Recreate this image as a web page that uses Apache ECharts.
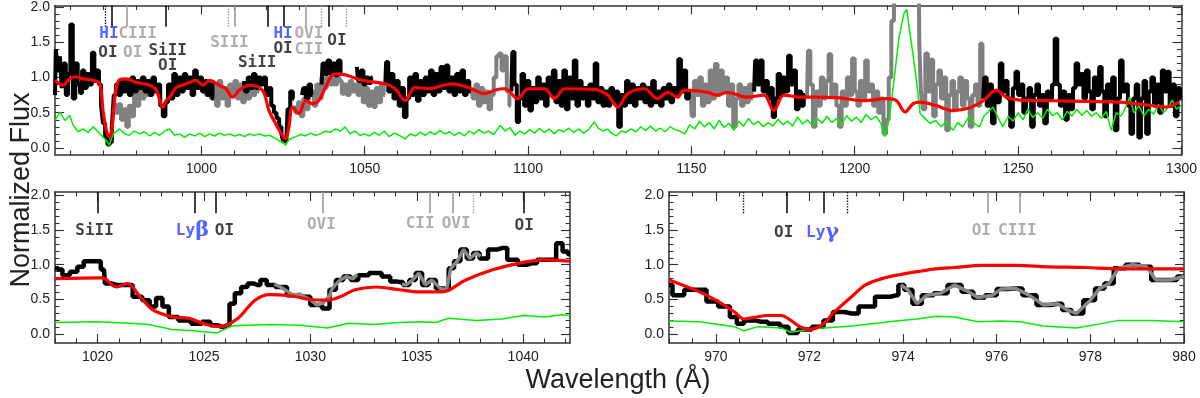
<!DOCTYPE html>
<html>
<head>
<meta charset="utf-8">
<script src="https://cdn.jsdelivr.net/npm/echarts@6/dist/echarts.min.js"></script>
<style>
  html, body { margin: 0; padding: 0; background: #fff; }
  #chart { width: 1200px; height: 398px; }
</style>
</head>
<body>
<div id="chart"></div>
<script>
// ---- top panel: full spectrum (wavelength, normalized flux); null = gap ----
const topBlack = [
  [955.2,0.75],[955.7,1.4],[956.4,1.1],[957.0,1.3],[957.5,0.85],[958.2,1.2],[958.8,0.75],[959.5,1.05],
  [960.3,1.75],[961.0,0.7],[961.8,1.2],[962.5,0.9],[963.2,0.78],[963.8,1.1],[964.6,0.85],[965.3,1.05],
  [966.1,0.9],[966.9,1.35],[967.6,0.95],[968.3,1.1],[969.0,0.9],[969.6,0.6],[970.2,0.35],[970.9,0.15],
  [971.6,0.05],[972.3,0.08],[972.9,0.3],[973.5,0.75],[974.2,0.9],[975.0,0.75],[975.8,0.95],[976.6,0.8],
  [977.4,0.95],[978.2,0.75],[979.0,1.0],[979.8,0.8],[980.6,0.95],[981.4,0.85],[982.2,1.0],[983.0,0.8],
  [983.8,0.95],[984.6,0.75],[985.4,1.0],[986.2,0.8],[987.0,0.9],[987.8,0.6],[988.6,0.45],[989.4,0.65],
  [990.2,0.9],[991.0,0.7],[991.8,1.05],[992.6,0.75],[993.4,1.0],[994.2,0.8],[995.0,1.05],[995.8,0.85],
  [996.6,1.0],[997.4,0.75],[998.2,1.1],[999.0,0.85],[999.8,1.0],[1000.6,0.8],[1001.4,0.95],[1002.2,0.75],
  [1003.0,0.9],[1003.8,0.7],[1004.4,null],
  [1013.0,0.95],[1013.8,0.8],[1014.6,1.0],[1015.4,0.85],[1016.2,1.05],[1017.0,0.85],[1017.8,1.0],[1018.6,0.9],
  [1019.4,1.0],[1020.2,0.75],[1021.0,0.85],[1021.8,0.6],[1022.6,0.5],[1023.4,0.42],[1024.2,0.3],[1024.8,0.2],
  [1025.4,0.08],[1026.0,0.1],[1026.8,0.55],[1027.6,0.8],[1028.4,0.7],[1029.0,null],
  [1030.8,0.75],[1031.6,0.85],[1032.4,0.7],[1033.2,0.9],[1034.0,0.75],[1034.8,null],
  [1036.8,0.9],[1037.4,1.2],[1038.2,1.05],[1039.0,1.24],[1039.8,1.05],[1040.6,1.2],[1041.4,1.03],[1042.2,1.24],
  [1043.0,1.05],[1043.6,null],
  [1047.6,1.15],[1048.4,0.95],[1049.2,1.1],[1050.0,0.9],[1050.8,1.0],[1051.6,0.92],[1052.4,1.0],[1053.0,null],
  [1056.3,0.9],[1056.8,1.22],[1057.6,0.8],[1058.4,1.05],[1059.2,0.7],[1060.0,0.95],[1060.8,0.6],[1061.6,0.85],
  [1062.4,0.44],[1063.2,0.7],[1064.0,1.0],[1064.8,0.75],[1065.6,1.05],[1066.4,0.67],[1067.2,0.95],[1068.0,0.75],
  [1068.8,1.0],[1069.6,0.8],[1070.4,1.1],[1071.2,0.75],[1072.0,1.05],[1072.8,0.8],[1073.6,1.15],[1074.4,0.85],
  [1075.2,1.17],[1076.0,0.8],[1076.8,1.0],[1077.6,0.75],[1078.4,1.05],[1079.2,0.8],[1080.0,1.1],[1080.8,0.75],
  [1081.6,0.95],[1082.4,0.8],[1083.0,null],
  [1094.9,0.8],[1095.5,1.36],[1096.2,0.9],[1096.9,0.37],[1097.6,0.7],[1098.4,1.05],[1099.2,0.6],[1100.0,0.95],
  [1100.8,0.53],[1101.6,0.85],[1102.4,0.65],[1103.2,1.0],[1104.0,0.7],[1104.8,0.9],[1105.6,0.6],[1106.4,1.0],
  [1107.2,0.75],[1108.0,1.1],[1108.8,0.65],[1109.6,0.95],[1110.4,0.6],[1111.2,1.1],[1112.0,0.55],[1112.8,1.0],
  [1113.6,0.7],[1114.4,1.24],[1115.2,0.6],[1116.0,0.95],[1116.8,0.7],[1117.6,0.85],[1118.4,0.6],[1119.2,0.9],
  [1120.0,0.7],[1120.8,1.2],[1121.6,0.65],[1122.4,0.85],[1123.2,0.6],[1124.0,0.8],[1124.8,0.6],[1125.6,0.85],
  [1126.4,0.65],[1127.2,0.8],[1128.0,0.3],[1128.8,0.75],[1129.6,0.6],[1130.4,0.95],[1131.2,0.65],[1132.0,0.9],
  [1132.8,0.6],[1133.6,0.85],[1134.4,0.7],[1135.2,0.9],[1136.0,0.65],[1136.8,0.85],[1137.6,0.6],[1138.4,0.95],
  [1139.2,0.65],[1140.0,0.8],[1140.8,0.6],[1141.6,0.85],[1142.4,0.7],[1143.2,0.9],[1144.0,0.65],[1144.8,0.85],
  [1145.6,0.75],[1146.4,1.26],[1147.2,0.8],[1148.0,1.1],[1148.8,0.7],[1149.6,0.8],[1150.2,null],
  [1169.2,0.8],[1169.8,1.24],[1170.6,0.9],[1171.4,1.24],[1172.2,0.8],[1173.0,0.95],[1173.8,0.7],[1174.6,0.85],
  [1175.2,0.44],[1176.0,0.7],[1176.8,1.05],[1177.6,0.75],[1178.4,1.0],[1179.2,0.8],[1180.0,1.31],[1180.8,0.9],
  [1181.6,1.1],[1182.4,0.55],[1183.2,0.8],[1184.0,0.6],[1184.8,0.75],[1185.4,null],
  [1239.3,0.7],[1240.0,1.0],[1240.8,0.6],[1241.6,0.9],[1242.4,0.35],[1243.2,0.8],[1244.0,0.65],[1244.8,1.2],
  [1245.6,0.8],[1246.4,0.95],[1247.2,0.7],[1248.0,0.3],[1248.8,0.85],[1249.6,1.08],[1250.4,0.75],[1251.2,0.9],
  [1252.0,0.5],[1252.8,0.7],[1253.6,0.85],[1254.4,0.3],[1255.2,0.75],[1256.0,0.9],[1256.8,0.6],[1257.6,0.75],
  [1258.4,0.35],[1259.2,0.8],[1260.0,0.7],[1260.8,0.9],[1261.6,1.55],[1262.4,0.9],[1263.2,0.6],[1264.0,0.8],
  [1264.8,0.4],[1265.6,0.75],[1266.4,0.55],[1267.2,0.85],[1268.0,1.2],[1268.8,0.9],[1269.6,1.05],[1270.4,0.7],
  [1271.2,1.1],[1272.0,0.8],[1272.8,0.55],[1273.6,1.0],[1274.4,0.75],[1275.2,1.15],[1276.0,0.8],[1276.8,0.45],
  [1277.6,0.9],[1278.4,0.7],[1279.2,1.0],[1280.0,0.25],[1280.8,0.7],[1281.6,1.24],[1282.4,0.8],[1283.2,0.9],
  [1284.0,0.6],[1284.8,0.2],[1285.6,0.7],[1286.4,0.9],[1287.2,0.15],[1288.0,0.7],[1288.8,0.95],[1289.6,0.2],
  [1290.4,0.8],[1291.2,1.0],[1292.0,0.6],[1292.8,0.9],[1293.6,0.5],[1294.4,1.1],[1295.2,0.8],[1296.0,1.08],
  [1296.8,0.6],[1297.6,0.9],[1298.4,0.45],[1299.2,0.85],[1300.0,0.7]
];

const topGray = [
  [973.4,0.65],[974.2,0.5],[975.0,0.62],[975.8,0.4],[976.6,0.55],[977.4,0.3],[978.2,0.6],[979.0,0.45],
  [979.8,0.75],[980.6,0.6],[981.4,0.85],[982.2,0.7],[983.0,0.9],[983.8,0.75],[984.6,0.9],[985.4,null],
  [1001.0,0.9],[1001.8,0.75],[1002.5,0.95],[1003.3,0.7],[1004.1,0.9],[1004.9,0.6],[1005.7,0.95],[1006.5,0.7],
  [1007.3,0.85],[1008.1,0.6],[1008.9,0.9],[1009.7,0.75],[1010.5,0.95],[1011.3,0.7],[1012.1,0.9],[1012.9,0.65],
  [1013.7,0.85],[1014.5,0.7],[1015.3,0.9],[1016.1,0.75],[1016.9,0.85],[1017.7,0.8],[1018.5,null],
  [1028.4,0.6],[1029.2,0.5],[1030.0,0.65],[1030.8,0.45],[1031.6,0.7],[1032.4,0.55],[1033.2,0.75],[1034.0,0.8],
  [1034.8,0.6],[1035.6,0.9],[1036.4,0.7],[1037.2,1.0],[1038.0,0.85],[1038.8,1.0],[1039.6,0.9],[1040.4,1.05],
  [1041.2,0.9],[1042.0,1.0],[1042.6,0.95],[1043.4,0.77],[1044.2,0.9],[1045.0,0.75],[1045.8,0.95],[1046.6,0.8],
  [1047.4,0.9],[1048.2,0.75],[1049.0,0.95],[1049.8,0.65],[1050.6,0.85],[1051.4,0.6],[1052.2,0.8],[1053.0,0.58],
  [1053.8,0.85],[1054.6,0.65],[1055.4,0.9],[1056.2,0.75],[1057.0,null],
  [1082.7,0.85],[1083.5,0.7],[1084.3,0.9],[1085.1,0.6],[1085.9,0.85],[1086.7,0.65],[1087.5,0.8],[1088.3,0.55],
  [1089.1,0.75],[1089.9,1.0],[1090.7,1.3],[1091.5,1.34],[1092.3,1.1],[1093.1,1.3],[1093.9,0.8],[1094.7,0.6],
  [1095.3,null],
  [1149.8,0.8],[1150.4,0.45],[1151.2,0.95],[1152.0,0.75],[1152.8,1.0],[1153.6,0.6],[1154.4,0.9],[1155.2,0.65],
  [1156.0,1.1],[1156.8,0.7],[1157.6,1.19],[1158.4,0.75],[1159.2,1.1],[1160.0,0.8],[1160.8,1.0],[1161.6,0.6],
  [1162.4,0.9],[1163.2,0.3],[1164.0,0.7],[1164.8,0.9],[1165.6,0.6],[1166.4,0.85],[1167.2,0.65],[1168.0,0.9],
  [1168.8,0.7],[1169.4,null],
  [1185.4,0.7],[1186.0,1.38],[1186.8,0.9],[1187.6,0.3],[1188.4,0.8],[1189.2,0.6],[1190.0,1.0],[1190.8,0.7],
  [1191.6,0.95],[1192.4,1.33],[1193.2,0.75],[1194.0,0.9],[1194.8,0.6],[1195.6,0.3],[1196.4,0.8],[1197.2,0.6],
  [1198.0,1.0],[1198.8,0.75],[1199.6,1.27],[1200.4,0.8],[1201.2,0.6],[1202.0,0.95],[1202.8,0.7],[1203.6,1.24],
  [1204.4,0.8],[1205.2,0.9],[1206.0,0.6],[1206.8,0.8],[1207.6,0.5],[1208.4,0.7],[1209.2,0.2],[1210.0,0.4],
  [1210.8,1.0],[1211.6,1.8],[1212.4,2.5],[1213.0,3.0],[1219.5,3.0],[1220.0,1.5],[1220.5,0.8],[1221.2,0.55],
  [1222.0,1.34],[1222.8,0.8],[1223.6,1.25],[1224.4,0.45],[1225.2,0.9],[1226.0,1.1],[1226.8,0.7],[1227.6,1.0],
  [1228.4,0.25],[1229.2,0.75],[1230.0,0.95],[1230.8,0.55],[1231.6,0.8],[1232.4,1.0],[1233.2,0.6],[1234.0,0.95],
  [1234.8,0.7],[1235.6,0.3],[1236.4,0.75],[1237.2,0.9],[1238.0,0.6],[1238.8,1.48],[1239.4,0.8]
];

const topModel = [
  [955.2,0.96],[957.7,0.89],[959.3,0.96],[961.3,1.01],[963.8,0.98],[966.9,0.96],[968.9,0.91],[969.9,0.53],
  [970.9,0.25],[971.8,0.16],[972.5,0.23],[973.2,0.58],[974.0,0.86],[975.0,0.97],[976.9,0.98],[980.1,0.93],
  [984.2,0.89],[986.2,0.82],[988.2,0.58],[989.2,0.67],[990.3,0.72],[992.3,0.86],[994.3,0.89],[996.4,0.93],
  [998.4,0.96],[1000.4,0.89],[1002.5,0.96],[1005.5,0.89],[1007.5,0.84],[1009.6,0.72],[1011.6,0.82],[1014.7,0.89],
  [1018.7,0.82],[1020.7,0.53],[1022.8,0.34],[1024.8,0.18],[1025.8,0.13],[1026.8,0.3],[1027.9,0.58],[1029.9,0.49],
  [1031.9,0.67],[1033.9,0.63],[1035.9,0.67],[1038.0,0.86],[1040.0,1.03],[1042.0,1.05],[1049.2,0.96],[1056.3,0.91],
  [1059.3,0.84],[1062.4,0.67],[1065.4,0.86],[1069.5,0.84],[1076.6,0.91],[1081.7,0.86],[1086.8,0.77],[1089.8,0.82],
  [1092.9,0.84],[1096.9,0.7],[1100.0,0.84],[1105.1,0.84],[1108.1,0.7],[1111.2,0.84],[1120.3,0.83],[1124.4,0.75],
  [1126.0,0.65],[1127.4,0.58],[1130.5,0.77],[1135.6,0.84],[1139.6,0.7],[1142.7,0.79],[1145.7,0.72],[1147.8,0.82],
  [1154.9,0.79],[1157.9,0.75],[1161.0,0.79],[1167.1,0.72],[1172.2,0.75],[1175.2,0.53],[1178.3,0.75],[1183.3,0.72],
  [1187.4,0.72],[1195.5,0.71],[1202.7,0.67],[1209.8,0.7],[1212.8,0.67],[1215.4,0.51],[1217.9,0.63],[1220.0,0.65],
  [1225.0,0.6],[1230.1,0.53],[1235.2,0.57],[1239.3,0.67],[1243.3,0.82],[1246.4,0.72],[1250.5,0.68],[1260.6,0.67],
  [1270.8,0.66],[1280.9,0.65],[1291.1,0.6],[1295.2,0.58],[1299.2,0.65]
];

const topError = [
  [955.2,0.39],[956.7,0.51],[958.2,0.39],[959.7,0.46],[960.8,0.32],[962.3,0.23],[963.8,0.27],[965.3,0.22],
  [966.9,0.3],[968.9,0.2],[970.9,0.11],[971.8,0.04],[973.0,0.2],[975.0,0.27],[976.5,0.2],[978.0,0.18],
  [979.5,0.24],[981.1,0.2],[982.6,0.23],[984.2,0.17],[985.7,0.22],[987.2,0.18],[988.8,0.24],[990.3,0.27],
  [991.8,0.18],[993.4,0.2],[994.9,0.15],[996.4,0.2],[998.0,0.17],[999.5,0.21],[1001.0,0.16],[1002.5,0.2],
  [1004.0,0.17],[1005.6,0.21],[1007.1,0.18],[1008.6,0.2],[1010.2,0.17],[1011.7,0.19],[1013.2,0.16],[1014.7,0.2],
  [1016.3,0.18],[1017.8,0.2],[1019.3,0.17],[1020.9,0.18],[1022.4,0.14],[1023.9,0.1],[1024.8,0.09],[1025.8,0.04],
  [1026.8,0.12],[1028.9,0.16],[1030.4,0.19],[1031.9,0.17],[1033.4,0.21],[1034.9,0.18],[1036.4,0.2],[1038.0,0.24],
  [1039.5,0.22],[1041.0,0.27],[1042.6,0.24],[1044.0,0.3],[1045.5,0.2],[1047.0,0.24],[1048.5,0.18],[1050.0,0.2],
  [1051.5,0.17],[1053.0,0.22],[1054.5,0.18],[1056.0,0.24],[1057.5,0.16],[1059.0,0.21],[1060.5,0.18],[1062.4,0.13],
  [1064.0,0.2],[1065.5,0.17],[1067.0,0.22],[1068.5,0.18],[1070.0,0.23],[1071.5,0.19],[1073.0,0.25],[1074.5,0.2],
  [1076.0,0.23],[1077.5,0.18],[1079.0,0.22],[1080.5,0.17],[1082.0,0.24],[1083.5,0.2],[1085.0,0.26],[1086.5,0.21],
  [1088.0,0.24],[1089.5,0.19],[1091.5,0.32],[1093.0,0.24],[1094.5,0.29],[1096.0,0.18],[1097.5,0.24],[1099.0,0.2],
  [1100.5,0.26],[1102.0,0.21],[1103.5,0.28],[1105.0,0.22],[1106.5,0.27],[1108.0,0.2],[1109.5,0.26],[1111.0,0.23],
  [1112.5,0.28],[1114.0,0.22],[1115.5,0.27],[1117.0,0.21],[1118.5,0.26],[1120.3,0.37],[1121.5,0.28],[1123.0,0.24],
  [1124.4,0.27],[1125.5,0.21],[1127.0,0.17],[1128.5,0.24],[1130.0,0.22],[1131.5,0.27],[1133.0,0.23],[1134.5,0.3],
  [1136.0,0.25],[1137.5,0.31],[1139.0,0.24],[1140.5,0.28],[1142.0,0.23],[1143.5,0.3],[1145.0,0.26],[1146.5,0.24],
  [1148.0,0.2],[1149.5,0.33],[1151.0,0.27],[1152.5,0.38],[1154.0,0.3],[1155.5,0.36],[1157.0,0.27],[1158.5,0.39],
  [1160.0,0.29],[1161.5,0.35],[1163.0,0.25],[1164.5,0.38],[1166.0,0.31],[1167.5,0.42],[1169.0,0.33],[1170.5,0.38],
  [1172.0,0.3],[1173.5,0.36],[1175.0,0.31],[1176.5,0.41],[1178.0,0.33],[1179.5,0.38],[1181.0,0.31],[1182.5,0.44],
  [1184.0,0.34],[1185.5,0.4],[1187.0,0.32],[1188.5,0.42],[1190.0,0.35],[1191.5,0.45],[1193.0,0.36],[1194.5,0.42],
  [1196.0,0.33],[1197.5,0.46],[1199.0,0.38],[1200.5,0.44],[1202.0,0.36],[1203.5,0.48],[1205.0,0.4],[1206.5,0.45],
  [1208.0,0.35],[1209.2,0.16],[1210.5,0.4],[1212.0,0.95],[1213.5,1.55],[1215.0,1.9],[1215.9,1.97],[1217.0,1.6],
  [1218.2,1.2],[1218.9,0.96],[1220.0,0.49],[1221.5,0.42],
  [1223.0,0.35],[1224.8,0.39],[1226.5,0.3],[1228.0,0.38],[1230.1,0.25],[1231.5,0.36],[1233.0,0.3],[1235.2,0.46],
  [1236.5,0.35],[1238.2,0.3],[1239.5,0.45],[1242.3,0.58],[1244.0,0.42],[1245.3,0.3],[1247.0,0.45],[1248.5,0.38],
  [1250.0,0.5],[1251.5,0.4],[1253.0,0.55],[1254.5,0.43],[1256.0,0.5],[1257.5,0.42],[1259.0,0.55],[1260.5,0.46],
  [1262.0,0.5],[1263.5,0.4],[1265.0,0.52],[1266.5,0.45],[1268.0,0.55],[1269.5,0.46],[1271.0,0.53],[1272.5,0.45],
  [1274.0,0.5],[1275.5,0.42],[1277.0,0.52],[1278.5,0.25],[1280.0,0.5],[1281.5,0.45],[1283.0,0.58],[1284.1,0.72],
  [1285.5,0.5],[1287.0,0.6],[1288.5,0.45],[1290.0,0.55],[1291.5,0.48],[1293.0,0.62],[1294.5,0.5],[1296.0,0.58],
  [1297.2,0.68],[1298.5,0.55],[1300.0,0.6]
];

// ---- bottom left: Ly-beta region ----
const betaBlack = [
  [1018.0,0.95],[1018.2,0.93],[1018.5,0.85],[1018.9,0.9],[1019.2,0.97],[1019.5,1.05],[1020.0,1.05],[1020.3,0.93],
  [1020.4,0.73],[1020.9,0.71],[1021.4,0.71],[1021.9,0.54],[1022.3,0.49],[1022.6,0.4],[1022.9,0.52],[1023.2,0.4],
  [1023.5,0.25],[1024.1,0.2],[1024.7,0.15],[1025.1,0.18],[1025.5,0.13],[1025.8,0.11],[1026.1,0.13],[1026.3,0.44],
  [1026.6,0.59],[1026.9,0.68],[1027.2,0.73],[1027.5,0.71],[1027.8,0.78],[1028.1,0.71],[1028.6,0.68],[1029.2,0.56],
  [1029.7,0.54],[1030.3,0.42],[1030.8,0.37],[1031.0,0.64],[1031.4,0.78],[1031.7,0.83],[1032.1,0.78],[1032.4,0.85],
  [1033.1,0.88],[1033.6,0.83],[1033.9,0.76],[1034.2,0.75],[1034.5,0.71],[1034.8,0.78],[1035.1,0.88],[1035.4,0.71],
  [1035.7,0.78],[1036.1,0.66],[1036.4,0.64],[1036.6,0.95],[1036.9,1.05],[1037.2,1.22],[1037.5,1.09],[1037.8,1.17],
  [1038.1,1.09],[1038.6,1.22],[1039.0,1.24],[1039.5,1.07],[1040.0,1.0],[1040.4,1.02],[1040.9,1.07],[1041.4,1.07],
  [1041.7,1.31],[1042.0,1.19],[1042.2,1.15]
];
const betaGray = [
  [1028.3,0.72],[1028.6,0.68],[1028.9,0.62],[1029.2,0.56],[1029.5,0.58],[1029.7,0.54],[1030.0,0.5],[1030.3,0.42],
  [1030.6,0.45],[1030.9,0.55],[1031.0,0.64],[1031.2,0.72],[1031.4,0.78],[1031.7,0.83],[1032.0,0.8],[1032.2,0.86],
  [1032.4,null],
  [1034.3,0.72],[1034.5,0.71],[1034.8,0.78],[1035.1,0.88],[1035.4,0.71],[1035.7,0.78],[1036.1,0.66],[1036.4,0.64],
  [1036.6,0.95],[1036.9,1.05],[1037.2,1.22],[1037.5,1.09],[1037.8,1.17],[1038.0,1.12]
];
const betaModel = [
  [1018.0,0.8],[1020.2,0.81],[1020.9,0.68],[1021.4,0.73],[1022.0,0.54],[1022.6,0.35],[1023.5,0.25],[1024.3,0.23],
  [1025.1,0.14],[1025.8,0.11],[1026.6,0.23],[1027.4,0.49],[1028.1,0.57],[1029.1,0.55],[1030.0,0.5],[1030.8,0.49],
  [1031.4,0.54],[1032.1,0.64],[1033.1,0.68],[1034.2,0.64],[1035.1,0.61],[1036.2,0.61],[1037.3,0.78],[1038.6,0.93],
  [1039.8,1.02],[1040.9,1.07],[1042.2,1.05]
];
const betaError = [
  [1018.0,0.17],[1020.0,0.18],[1021.5,0.16],[1022.4,0.14],[1023.5,0.07],[1024.5,0.05],[1025.6,0.02],[1026.3,0.12],
  [1027.0,0.13],[1028.1,0.14],[1029.5,0.13],[1030.8,0.09],[1031.8,0.16],[1033.0,0.14],[1034.2,0.17],[1035.2,0.18],
  [1035.9,0.17],[1036.5,0.23],[1037.8,0.2],[1039.0,0.22],[1040.0,0.27],[1041.0,0.25],[1041.8,0.28],[1042.2,0.27]
];

// ---- bottom right: Ly-gamma region ----
const gammaBlack = [
  [969.0,0.71],[969.15,0.56],[969.5,0.64],[969.7,0.64],[969.9,0.47],[970.2,0.4],[970.4,0.25],[970.5,0.15],
  [970.7,0.2],[970.97,0.18],[971.25,0.15],[971.5,0.11],[971.6,0.02],[971.9,0.07],[972.2,0.11],[972.4,0.2],
  [972.6,0.32],[972.9,0.3],[973.2,0.4],[973.6,0.54],[973.85,0.56],[973.95,0.71],[974.1,0.64],[974.3,0.44],
  [974.5,0.56],[974.8,0.59],[975.1,0.71],[975.4,0.61],[975.6,0.53],[975.9,0.56],[976.1,0.65],[976.4,0.66],
  [976.7,0.56],[977.0,0.42],[977.3,0.44],[977.5,0.35],[977.7,0.3],[978.0,0.49],[978.2,0.66],[978.4,0.73],
  [978.6,0.95],[978.9,1.0],[979.2,0.97],[979.4,0.78],[979.7,0.78],[980.0,0.83]
];
const gammaGray = [
  [973.95,0.71],[974.1,0.64],[974.3,0.44],[974.5,0.56],[974.8,0.59],[975.1,0.71],[975.4,0.61],[975.6,0.53],
  [975.9,0.56],[976.1,0.65],[976.4,0.66],[976.7,0.56],[977.0,0.42],[977.3,0.44],[977.5,0.35],[977.7,0.3],
  [978.0,0.49],[978.2,0.66],[978.4,0.73],[978.6,0.95],[978.9,1.0],[979.2,0.97],[979.4,0.78],[979.7,0.78],[980.0,0.83]
];
const gammaModel = [
  [969.0,0.78],[969.65,0.61],[970.0,0.49],[970.4,0.32],[970.6,0.22],[970.8,0.24],[971.1,0.27],[971.4,0.27],
  [971.6,0.2],[971.8,0.11],[972.0,0.07],[972.3,0.15],[972.5,0.3],[972.9,0.54],[973.2,0.71],[973.6,0.81],
  [973.95,0.86],[974.3,0.9],[974.7,0.94],[975.1,0.96],[975.7,0.99],[976.4,0.99],[977.1,0.97],[977.9,0.96],
  [978.6,0.94],[979.3,0.94],[980.0,0.94]
];
const gammaError = [
  [969.0,0.19],[969.65,0.18],[970.4,0.11],[970.6,0.05],[970.9,0.11],[971.4,0.09],[971.6,0.03],[972.1,0.08],
  [972.9,0.12],[973.95,0.2],[974.3,0.22],[974.7,0.26],[975.1,0.25],[975.6,0.18],[976.1,0.19],[976.5,0.18],
  [977.0,0.12],[977.7,0.09],[978.2,0.15],[978.6,0.2],[979.3,0.2],[980.0,0.18]
];

// ---- line identifications ----
const topLabels = [
  [971.7,1.62,'HI','b'],[980.5,1.62,'CIII','g'],[971.4,1.35,'OI','k'],[979.0,1.35,'OI','g'],
  [989.7,1.38,'SiII','k'],[989.7,1.17,'OI','k'],[1008.6,1.49,'SIII','g'],[1017.1,1.21,'SiII','k'],
  [1025.0,1.62,'HI','b'],[1032.9,1.62,'OVI','g'],[1025.0,1.41,'OI','k'],[1032.9,1.39,'CII','g'],
  [1041.5,1.52,'OI','k']
];
const topMarkers = [
  [970.66,'k',1],[972.5,'k',0],[977.06,'g',0],[988.95,'k',0],[1008.3,'g',1],[1010.1,'g',0],
  [1020.2,'k',0],[1025.3,'k',0],[1031.9,'g',0],[1036.8,'g',1],[1039.0,'k',0],[1044.4,'g',1]
];
const betaLabels = [
  [1019.86,1.49,'SiII','k'],[1024.46,1.49,'Lyβ','b'],[1025.96,1.49,'OI','k'],[1030.52,1.58,'OVI','g'],
  [1035.16,1.59,'CII','g'],[1036.85,1.59,'OVI','g'],[1040.05,1.56,'OI','k']
];
const betaMarkers = [
  [1019.99,'k',0],[1024.55,'k',0],[1025.54,'k',0],[1030.58,'g',0],[1035.6,'g',0],[1036.7,'g',0],
  [1037.65,'g',1],[1040.05,'k',0]
];
const gammaLabels = [
  [971.45,1.46,'OI','k'],[972.28,1.46,'Lyγ','b'],[975.67,1.48,'OI','g'],[976.44,1.48,'CIII','g']
];
const gammaMarkers = [
  [970.58,'k',1],[971.52,'k',0],[972.30,'k',0],[972.81,'k',1],[975.81,'g',0],[976.49,'g',0]
];

const COL = { k: '#111111', g: '#9a9a9a', b: '#2a3cff' };

function steps(a, b, s) {
  const out = [];
  for (let v = a; v <= b + 1e-9; v += s) out.push(+v.toFixed(3));
  return out;
}

// split a spectrum at its null gaps, so step lines never bridge a gap
function pieces(data) {
  const out = [[]];
  data.forEach(p => {
    if (p[1] === null) out.push([]);
    else out[out.length - 1].push(p);
  });
  return out.filter(s => s.length > 1);
}

// bottom/left axis with labels + mirrored top/right axis, major and minor ticks
function axisGroup(dim, grid, min, max, majors, minors, fmt) {
  const sides = dim === 'x' ? ['bottom', 'top'] : ['left', 'right'];
  const tick = { color: '#333', width: 1.1 };
  const out = [];
  sides.forEach((pos, i) => {
    out.push({
      type: 'value', gridIndex: grid, position: pos, min: min, max: max,
      splitLine: { show: false },
      axisLine: { show: true, onZero: false, lineStyle: { color: '#333', width: 1.5 } },
      axisTick: { show: true, inside: true, length: 9, customValues: majors, lineStyle: tick },
      axisLabel: i === 0 ? {
        show: true, customValues: majors, formatter: fmt,
        fontFamily: 'Liberation Sans', fontSize: 14, color: '#222',
        margin: dim === 'x' ? 7 : 5
      } : { show: false }
    });
    out.push({
      type: 'value', gridIndex: grid, position: pos, min: min, max: max,
      splitLine: { show: false },
      axisLine: { show: false, onZero: false },
      axisTick: { show: true, inside: true, length: 4.5, customValues: minors, lineStyle: tick },
      axisLabel: { show: false }
    });
  });
  return out;
}

const fmtX = v => String(Math.round(v));
const fmtY = v => v.toFixed(1);
const yMajors = [0, 0.5, 1.0, 1.5, 2.0];
const yMinors = steps(0, 2.0, 0.1);

const xAxes = [].concat(
  axisGroup('x', 0, 955.2, 1300, steps(1000, 1300, 50), steps(960, 1300, 10), fmtX),
  axisGroup('x', 1, 1018, 1042.2, steps(1020, 1040, 5), steps(1018, 1042, 1), fmtX),
  axisGroup('x', 2, 969, 980, steps(970, 980, 2), steps(969, 980, 0.5), fmtX)
);
const yAxes = [].concat(
  axisGroup('y', 0, -0.1, 2.02, yMajors, yMinors, fmtY),
  axisGroup('y', 1, -0.125, 2.045, yMajors, yMinors, fmtY),
  axisGroup('y', 2, -0.125, 2.045, yMajors, yMinors, fmtY)
);

function spec(grid, data, color, width, step, z) {
  return {
    type: 'line', xAxisIndex: grid * 4, yAxisIndex: grid * 4, data: data,
    step: step || false, symbol: 'none', showSymbol: false, clip: true,
    lineStyle: { color: color, width: width }, z: z || 2, silent: true, animation: false
  };
}
function specPieces(grid, data, color, width, step, z) {
  return pieces(data).map(seg => spec(grid, seg, color, width, step, z));
}
function model(grid, data) {
  const s = spec(grid, data, '#ff0000', 3.2, false, 4);
  s.smooth = 0.35;
  return s;
}

function idSeries(grid, labels, markers, yLow, yTop) {
  return {
    type: 'scatter', xAxisIndex: grid * 4, yAxisIndex: grid * 4,
    symbolSize: 0, silent: true, animation: false, z: 6,
    data: labels.map(l => ({
      value: [l[0], l[1]], name: l[2],
      label: { color: COL[l[3]] }
    })),
    label: {
      show: true, position: 'inside',
      fontFamily: 'DejaVu Sans Mono', fontWeight: 'bold', fontSize: 16,
      formatter: p => p.name.indexOf('Ly') === 0 ? '{ly|Ly}{gr|' + p.name.slice(2) + '}' : p.name,
      rich: {
        ly: { fontFamily: 'DejaVu Sans Mono', fontWeight: 'bold', fontSize: 16, color: COL.b },
        gr: { fontFamily: 'DejaVu Serif', fontSize: 21, color: COL.b }
      }
    },
    markLine: {
      silent: true, symbol: ['none', 'none'], animation: false, label: { show: false },
      data: markers.map(m => [
        { coord: [m[0], yLow], lineStyle: { color: COL[m[1]], width: m[2] ? 1.4 : 1.6, type: m[2] ? 'dotted' : 'solid' } },
        { coord: [m[0], yTop] }
      ])
    }
  };
}

const option = {
  backgroundColor: '#ffffff',
  animation: false,
  grid: [
    { left: 55, top: 5, width: 1129, height: 150 },
    { left: 55, top: 192, width: 515, height: 151 },
    { left: 669, top: 192, width: 515, height: 151 }
  ],
  xAxis: xAxes,
  yAxis: yAxes,
  graphic: [
    { type: 'text', x: 22, y: 190, rotation: Math.PI / 2,
      style: { text: 'Normalized Flux', fontFamily: 'Liberation Sans', fontSize: 27, fill: '#222', align: 'center', verticalAlign: 'middle' } },
    { type: 'text', x: 618, y: 381,
      style: { text: 'Wavelength (Å)', fontFamily: 'Liberation Sans', fontSize: 27, fill: '#222', align: 'center', verticalAlign: 'middle' } }
  ],
  series: [].concat(
    specPieces(0, topGray, '#808080', 4, 'middle', 2),
    specPieces(0, topBlack, '#000000', 4, 'middle', 3),
    [spec(0, topError, '#00ee00', 1.5, false, 3),
     model(0, topModel),
     idSeries(0, topLabels, topMarkers, 1.72, 2.02),

     spec(1, betaBlack, '#000000', 4.5, 'middle', 2)],
    specPieces(1, betaGray, '#888888', 3.5, false, 3),
    [spec(1, betaError, '#00ee00', 1.5, false, 3),
     model(1, betaModel),
     idSeries(1, betaLabels, betaMarkers, 1.74, 2.045),

     spec(2, gammaBlack, '#000000', 4.5, 'middle', 2),
     spec(2, gammaGray, '#888888', 3.5, false, 3),
     spec(2, gammaError, '#00ee00', 1.5, false, 3),
     model(2, gammaModel),
     idSeries(2, gammaLabels, gammaMarkers, 1.74, 2.045)]
  )
};

const chart = echarts.init(document.getElementById('chart'), null, { renderer: 'canvas' });
chart.setOption(option);
</script>
</body>
</html>
